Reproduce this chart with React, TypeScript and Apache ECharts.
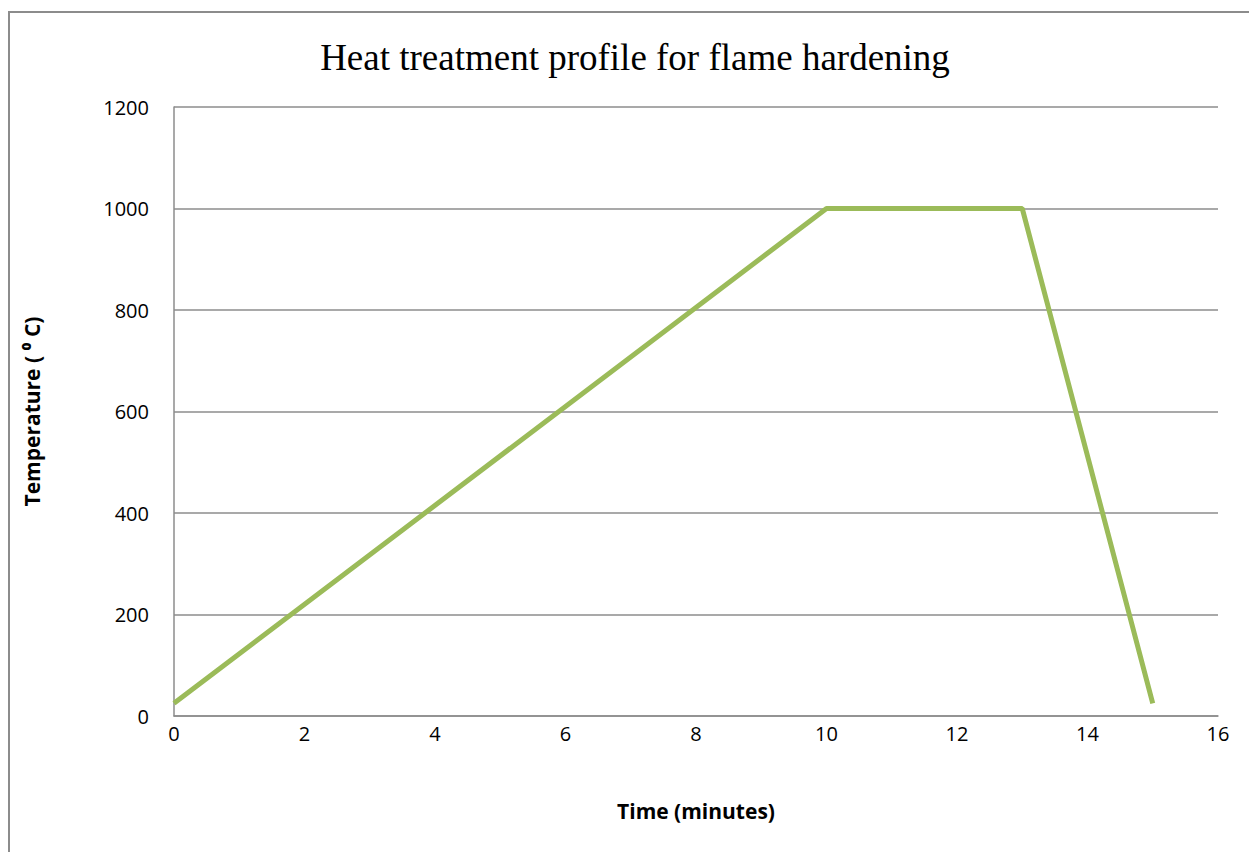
import React, { useEffect, useRef } from "react";
import * as echarts from "echarts";

const timeMinutes = [0, 10, 13, 15];
const temperatureC = [25, 1000, 1000, 25];
const xTicks = { min: 0, max: 16, interval: 2 };
const yTicks = { min: 0, max: 1200, interval: 200 };
const titleText = "Heat treatment profile for flame hardening";
const xName = "Time (minutes)";
const yName = "Temperature ( ⁰ C)";

export default function App() {
  const ref = useRef<HTMLDivElement>(null);
  useEffect(() => {
    if (!ref.current) return;
    const chart = echarts.init(ref.current, undefined, { renderer: "svg" });
    const data = timeMinutes.map((t, i) => [t, temperatureC[i]]);
    chart.setOption({
      animation: false,
      backgroundColor: "#ffffff",
      title: {
        text: titleText,
        left: 630,
        textAlign: "center",
        top: 34,
        textStyle: {
          fontFamily: "Liberation Serif",
          fontWeight: "normal",
          fontSize: 37,
          color: "#000",
        },
      },
      graphic: [
        {
          type: "rect",
          shape: { x: 9, y: 12, width: 1400, height: 1000 },
          style: { fill: "none", stroke: "#8c8c8c", lineWidth: 2 },
          silent: true,
        },
      ],
      grid: { left: 174, top: 107, right: 31, bottom: 136, containLabel: false },
      xAxis: {
        type: "value",
        min: xTicks.min,
        max: xTicks.max,
        interval: xTicks.interval,
        name: xName,
        nameLocation: "middle",
        nameGap: 84,
        nameTextStyle: { fontFamily: "Open Sans", fontWeight: "bold", fontSize: 21, color: "#000" },
        axisLine: { show: true, lineStyle: { color: "#8c8c8c", width: 1.5 } },
        axisTick: { show: false },
        splitLine: { show: false },
        axisLabel: { margin: 7, fontFamily: "Open Sans", fontSize: 20, color: "#000", formatter: (v: number) => String(v) },
      },
      yAxis: {
        type: "value",
        min: yTicks.min,
        max: yTicks.max,
        interval: yTicks.interval,
        name: yName,
        nameLocation: "middle",
        nameRotate: 90,
        nameGap: 132,
        nameTextStyle: { fontFamily: "Open Sans", fontWeight: "bold", fontSize: 21, color: "#000" },
        axisLine: { show: true, lineStyle: { color: "#8c8c8c", width: 1.5 } },
        axisTick: { show: false },
        splitLine: { show: true, lineStyle: { color: "#8c8c8c", width: 1.5 } },
        axisLabel: { margin: 25, fontFamily: "Open Sans", fontSize: 20, color: "#000", formatter: (v: number) => String(v) },
      },
      series: [
        {
          type: "line",
          data,
          symbol: "none",
          lineStyle: { color: "#9bbb59", width: 5 },
        },
      ],
    });
    return () => chart.dispose();
  }, []);
  return (
    <div
      ref={ref}
      style={{ position: "fixed", left: 0, top: 0, width: 1249, height: 852 }}
    />
  );
}
